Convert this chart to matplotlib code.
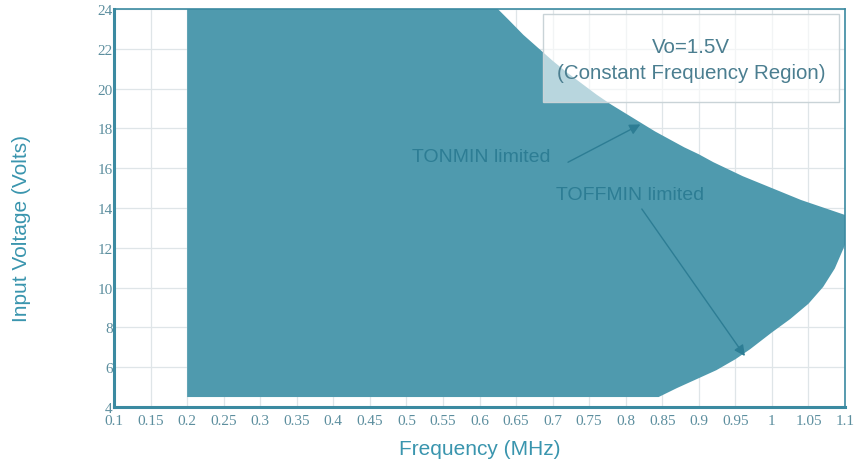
import matplotlib.pyplot as plt
from matplotlib.patches import Rectangle

# Operating region of the converter (Vo = 1.5 V), frequency in MHz, input voltage in volts
f_min = 0.2
vin_floor = 4.5

# upper boundary: minimum on-time limit
ton_f = [0.2, 0.625, 0.64, 0.66, 0.68, 0.70, 0.72, 0.74, 0.76, 0.78, 0.80, 0.82,
         0.84, 0.86, 0.88, 0.90, 0.92, 0.94, 0.96, 0.98, 1.00, 1.02, 1.04, 1.06,
         1.08, 1.10]
ton_v = [24.0, 24.0, 23.45, 22.7, 22.05, 21.4, 20.8, 20.25, 19.7, 19.2, 18.75, 18.3,
         17.85, 17.45, 17.05, 16.7, 16.3, 15.95, 15.6, 15.3, 15.0, 14.7, 14.4, 14.15,
         13.9, 13.65]

# lower-right boundary: minimum off-time limit
toff_f = [0.845, 0.87, 0.90, 0.924, 0.95, 0.97, 1.00, 1.025, 1.05, 1.07,
          1.086, 1.10]
toff_v = [4.5, 4.95, 5.45, 5.85, 6.4, 6.9, 7.75, 8.42, 9.19, 10.03,
          10.96, 12.15]

xticks = [0.1, 0.15, 0.2, 0.25, 0.3, 0.35, 0.4, 0.45, 0.5, 0.55, 0.6, 0.65,
          0.7, 0.75, 0.8, 0.85, 0.9, 0.95, 1.0, 1.05, 1.1]
xticklabels = ['0.1', '0.15', '0.2', '0.25', '0.3', '0.35', '0.4', '0.45', '0.5',
               '0.55', '0.6', '0.65', '0.7', '0.75', '0.8', '0.85', '0.9', '0.95',
               '1', '1.05', '1.1']
yticks = [4, 6, 8, 10, 12, 14, 16, 18, 20, 22, 24]

FILL = '#4f9aae'
SPINE = '#3b8aa1'
LABEL = '#3a95ae'
TICK = '#5c8e9e'
NOTE = '#2d7d94'

fig = plt.figure(figsize=(8.6, 4.64), dpi=100)
ax = fig.add_axes([0.1326, 0.1207, 0.85, 0.8577])

# region polygon: left edge, top curve, right edge down the toff curve, floor back to start
poly_x = [f_min] + ton_f + toff_f[::-1] + [f_min]
poly_y = [vin_floor] + ton_v + toff_v[::-1] + [vin_floor]
ax.fill(poly_x, poly_y, color=FILL, lw=0, zorder=2)

ax.set_xlim(0.1, 1.1)
ax.set_ylim(4, 24)
ax.set_xticks(xticks)
ax.set_xticklabels(xticklabels)
ax.set_yticks(yticks)
ax.tick_params(length=0, pad=5, labelsize=11, labelcolor=TICK)
ax.tick_params(axis='y', pad=1)
for lab in ax.get_xticklabels() + ax.get_yticklabels():
    lab.set_fontfamily('Liberation Serif')

ax.grid(True, color='#dfe5e8', lw=0.9, zorder=1)
ax.set_axisbelow(True)
for side, sp in ax.spines.items():
    sp.set_color(SPINE)
    sp.set_linewidth(2.2 if side in ('left', 'bottom') else 1.2)

ax.set_xlabel('Frequency (MHz)', fontsize=15, color=LABEL,
              family='Liberation Sans', labelpad=9)
ax.set_ylabel('Input Voltage (Volts)', fontsize=15, color=LABEL,
              family='Liberation Sans')
ax.yaxis.set_label_coords(-0.113, 0.452)

# annotations for the two limits
ax.text(0.603, 16.6, 'TONMIN limited', ha='center', va='center', fontsize=14,
        color=NOTE, family='Liberation Sans', zorder=4)
ax.annotate('', xy=(0.82, 18.2), xytext=(0.721, 16.3), zorder=4,
            arrowprops=dict(arrowstyle='-|>', color=NOTE, lw=1.0,
                            mutation_scale=16, shrinkA=0, shrinkB=0))
ax.text(0.806, 14.7, 'TOFFMIN limited', ha='center', va='center', fontsize=14,
        color=NOTE, family='Liberation Sans', zorder=4)
ax.annotate('', xy=(0.963, 6.56), xytext=(0.822, 13.95), zorder=4,
            arrowprops=dict(arrowstyle='-|>', color=NOTE, lw=1.0,
                            mutation_scale=16, shrinkA=0, shrinkB=0))

# translucent title box in the upper right corner
bx, by, bw, bh = 0.687, 19.33, 0.405, 4.42
ax.add_patch(Rectangle((bx, by), bw, bh, facecolor='white', alpha=0.6,
                       edgecolor='none', zorder=5))
ax.add_patch(Rectangle((bx, by), bw, bh, facecolor='none',
                       edgecolor='#c9d3d7', lw=1.0, zorder=5))
ax.text(bx + bw / 2, 22.14, 'Vo=1.5V', ha='center', va='center', fontsize=14.8,
        color='#4b7e90', family='Liberation Sans', zorder=6)
ax.text(bx + bw / 2, 20.83, '(Constant Frequency Region)', ha='center', va='center',
        fontsize=14.8, color='#4b7e90', family='Liberation Sans', zorder=6)

fig.savefig('out.png', dpi=100)
